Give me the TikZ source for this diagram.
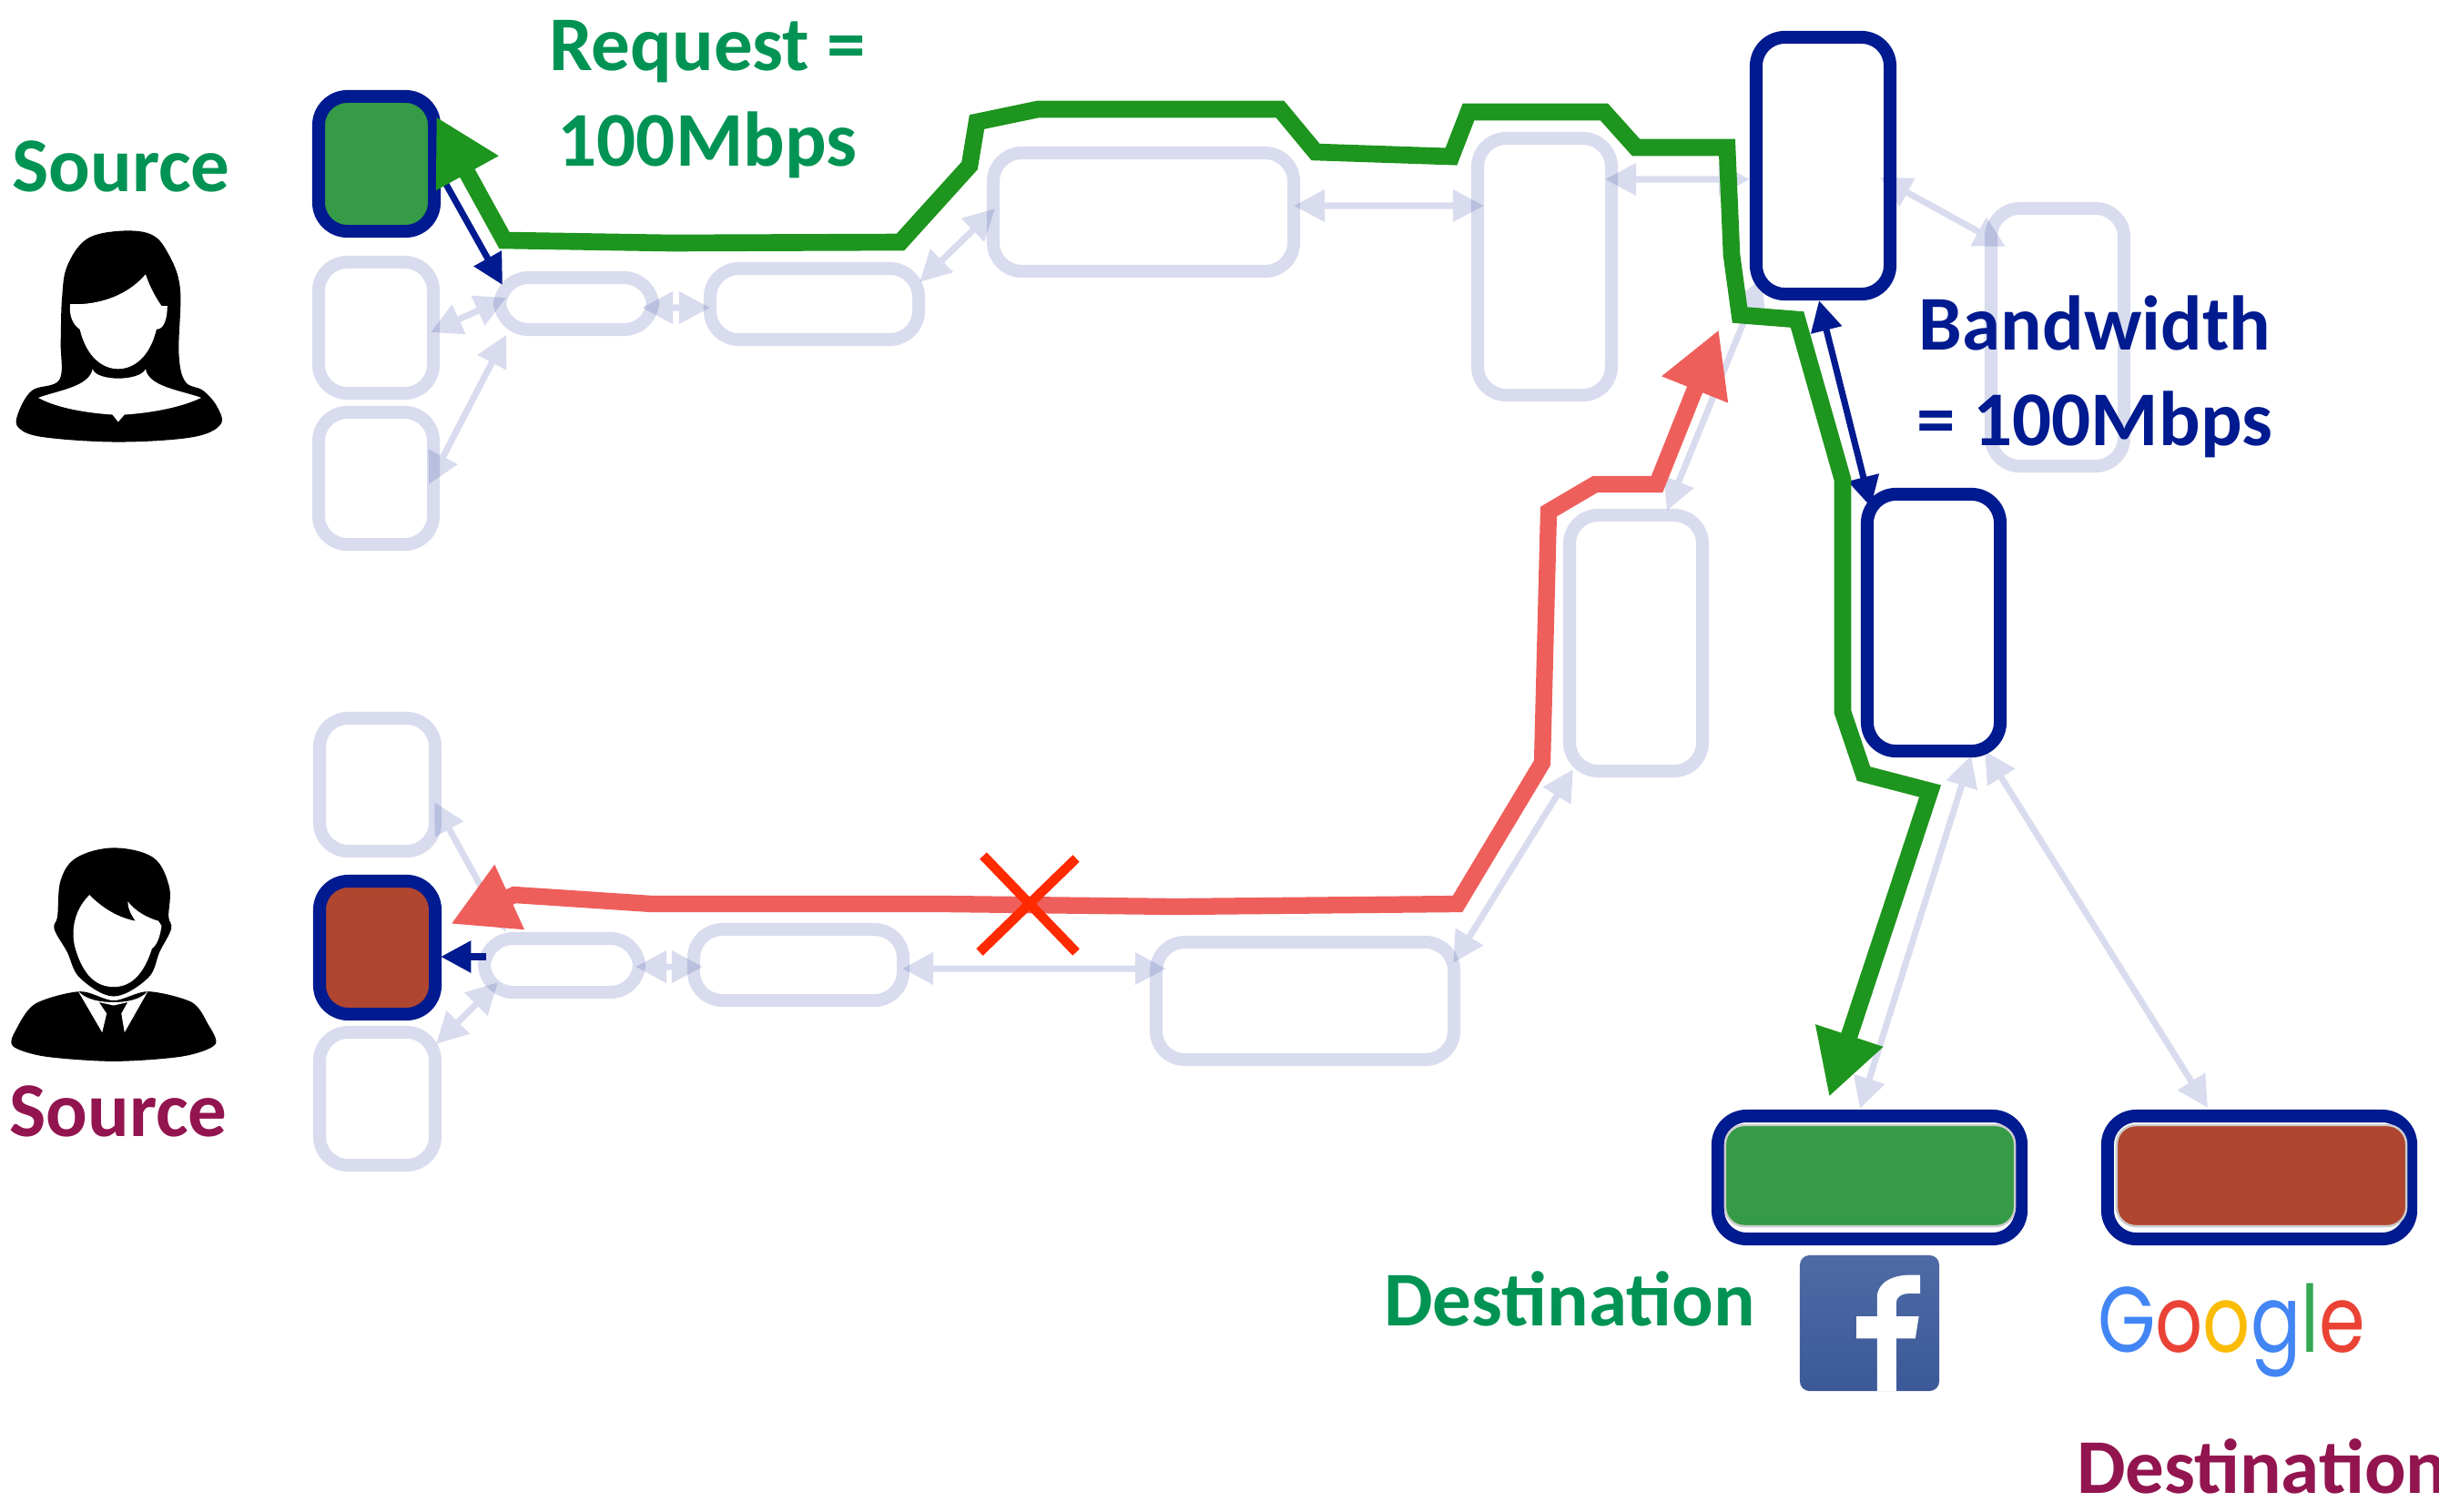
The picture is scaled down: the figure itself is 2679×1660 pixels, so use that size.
\documentclass[tikz,border=0pt]{standalone}
\usepackage{fontspec}
\setmainfont{Carlito}
\newfontfamily\googlefont{Poppins}
\usetikzlibrary{arrows.meta,calc}
\definecolor{navy}{HTML}{001A8F}
\definecolor{pathgreen}{HTML}{1E951E}
\definecolor{pathred}{HTML}{EE5F5B}
\definecolor{crossred}{HTML}{FF2A00}
\definecolor{cellgreen}{HTML}{359B46}
\definecolor{cellred}{HTML}{B04630}
\definecolor{textgreen}{HTML}{009354}
\definecolor{textpurple}{HTML}{92154F}
\definecolor{fbtop}{HTML}{4F6BA5}
\definecolor{fbbot}{HTML}{3B5998}
\def\px{0.28453pt}
\tikzset{
  navytip/.tip={Triangle[length=9.5pt,width=9.5pt]},
  sz/.style 2 args={minimum width=#1*\px,minimum height=#2*\px},
  cell/.style={rectangle,rounded corners=9pt,inner sep=0pt,outer sep=0pt,line width=4pt},
  faint/.style={cell,draw=navy,draw opacity=.15},
  strong/.style={cell,draw=navy},
  sharedlink/.style={line width=2pt,draw=navy,{Triangle[length=9.7pt,width=9.7pt]}-{Triangle[length=9.7pt,width=9.7pt]}},
  pathlink/.style={line width=5.3pt,miter limit=10,{Triangle[length=20.2pt,width=20.8pt]}-{Triangle[length=20.2pt,width=20.8pt]}},
  navylink/.style={line width=2pt,draw=navy,fill=navy},
  lbl/.style={inner sep=0pt,outer sep=0pt,font=\bfseries\fontsize{24.2}{25}\selectfont},
}
\begin{document}
\begin{tikzpicture}[x=0.01cm,y=-0.01cm]
\useasboundingbox (0,0) rectangle (2679,1660);
\fill[white] (0,0) rectangle (2679,1660);

% faint cells
\node[faint,sz={126}{144}] (l1) at (413,360) {};
\node[faint,sz={126}{145}] (l2) at (413,525.5) {};
\node[faint,sz={168}{57}] (l3) at (633,333.5) {};
\node[faint,sz={229}{78}] (l4) at (894.5,334) {};
\node[faint,sz={330}{130}] (l5) at (1256,233) {};
\node[faint,sz={147}{282}] (l6) at (1696.5,293) {};
\node[faint,sz={146}{283}] (l7) at (2260,370.5) {};
\node[faint,sz={146}{281}] (l8) at (1797,706.5) {};
\node[faint,sz={127}{146}] (l9) at (414.5,862) {};
\node[faint,sz={127}{146}] (l10) at (414.5,1207) {};
\node[faint,sz={170}{59}] (l11) at (617,1060.5) {};
\node[faint,sz={230}{78}] (l12) at (877,1060) {};
\node[faint,sz={327}{129}] (l13) at (1433.5,1099.5) {};

% strong cells
\node[cell,fill=cellgreen,sz={127}{148},draw=navy] (s1) at (413.5,180) {};
\node[cell,fill=cellred,sz={127}{146},draw=navy] (s2) at (414.5,1041) {};
\node[strong,sz={147}{282}] (b1) at (2002.5,182) {};
\node[strong,sz={146}{282}] (b2) at (2124,684) {};
\node[strong,sz={333}{135}] (d1) at (2053.5,1293.5) {};
\node[strong,sz={333}{135}] (d2) at (2481.5,1293.5) {};
\node[rectangle,rounded corners=6pt,inner sep=0pt,fill=cellgreen,draw=black!20,line width=.7pt,sz={318}{111}] (d1fill) at (2054,1291.5) {};
\node[rectangle,rounded corners=6pt,inner sep=0pt,fill=cellred,draw=black!20,line width=.7pt,sz={318}{111}] (d2fill) at (2484,1291.5) {};

% shared links
\begin{scope}[transparency group,opacity=.15]
\draw[sharedlink] ($(l1.east)+(-3,5)$) -- ($(l3.west)+(7,-6.5)$);
\draw[sharedlink] ($(l2.east)+(-5,6.5)$) -- ($(l3.south west)+(7,6)$);
\draw[sharedlink] ($(l3.east)+(-12,4.5)$) -- ($(l4.west)+(0,4)$);
\draw[sharedlink] ($(l4.north east)+(1,15)$) -- ($(l5.west)+(2,-4)$);
\draw[sharedlink] ($(l5.east)+(0,-7)$) -- ($(l6.west)+(7,-67)$);
\draw[sharedlink] ($(l6.east)+(-7,-96)$) -- ($(b1.west)+(-7,15)$);
\draw[sharedlink] ($(b1.east)+(-11,13)$) -- ($(l7.north west)+(16,42)$);
\draw[sharedlink] ($(b1.south west)+(6,-18)$) -- ($(l8.north)+(34,-5)$);
\draw[sharedlink] ($(l8.south west)+(4,-2)$) -- ($(l13.north east)+(-1,23)$);
\draw[sharedlink] ($(b2.south)+(41,5)$) -- ($(d1.north)+(-10.5,-8)$);
\draw[sharedlink] ($(b2.south east)+(-17,0)$) -- ($(d2.north)+(-56.5,-9)$);
\draw[sharedlink] ($(l9.east)+(-1,19)$) -- ($(l11.north west)+(24,-7)$);
\draw[sharedlink] ($(l10.north east)+(1,13)$) -- ($(l11.south west)+(15,-11)$);
\draw[sharedlink] ($(l11.east)+(-4,1.5)$) -- ($(l12.west)+(10,2)$);
\draw[sharedlink] ($(l12.east)+(-1,4)$) -- ($(l13.west)+(11,-35.5)$);
\end{scope}

% navy links
\draw[navylink,{navytip}-{navytip}] ($(b1.south)+(-4.5,7)$) -- ($(b2.north west)+(4,14)$);
\draw[navylink,-{navytip}] ($(s1.east)+(6,10)$) -- ($(l3.north west)+(3,8)$);
\draw[navylink,line width=2.2pt,-{navytip}] ($(l11.west)+(2,-9.5)$) -- ($(s2.east)+(6,10)$);

% request path
\draw[pathlink,color=pathgreen] ($(s1.east)+(2,-52)$)
  -- (554,264) -- (737,267) -- (989,266) -- (1065,182) -- (1073,134)
  -- (1140,120) -- (1406,120) -- (1445,167) -- (1594,172) -- (1613,123)
  -- (1762,123) -- (1797,162) -- (1897,162) -- (1902,280) -- (1911,346)
  -- (1974,351) -- (2024,527) -- (2024,782) -- (2047,850) -- (2120,869)
  -- ($(d1.north)+(-44.5,-21)$);

% blocked path
\coordinate (redend) at (1888,362);
\draw[pathlink,color=pathred,line width=5.2pt] ($(s2.east)+(17,-26)$)
  -- (565,983) -- (716,993) -- (1037,993) -- (1292,996) -- (1601,993)
  -- (1694,838) -- (1701,562) -- (1752,532) -- (1820,532) -- (redend);

% cross
\coordinate (xa) at (1080,940);
\coordinate (xb) at (1182,1046);
\coordinate (xc) at (1182,943);
\coordinate (xd) at (1076,1046);
\draw[crossred,line width=3pt] (xa) -- (xb) (xc) -- (xd);

% labels
\node[lbl,text=textgreen] (src1) at (133,183) {Source};
\node[lbl,text=textpurple] (src2) at (130,1221) {Source};
\node[lbl,text=textgreen] (req) at (777,57) {Request =};
\node[lbl,text=textgreen] (reqv) at (777,159) {100Mbps};
\node[lbl,text=navy] (bw) at (2301,355) {Bandwidth};
\node[lbl,text=navy] (bwv) at (2301,466) {= 100Mbps};
\node[lbl,text=textgreen] (dst1) at (1724,1427) {Destination};
\node[lbl,text=textpurple,anchor=west] (dst2) at (2281,1611) {Destination};

% facebook logo
\node[rectangle,rounded corners=3pt,inner sep=0pt,sz={153}{149},top color=fbtop,bottom color=fbbot] (fb) at (2053.5,1453.5) {};
\begin{scope}[shift={(1500,800)},xscale=0.752,yscale=0.5485]
\fill[white] (747,1328) -- (747,1222) -- (717,1222) -- (717,1178) -- (747,1178) -- (747,1140)
  .. controls (747,1110) and (770,1095) .. (795,1095) -- (810,1095) -- (810,1132) -- (795,1132)
  .. controls (782,1132) and (775,1140) .. (775,1150) -- (775,1178) -- (808,1178) -- (803,1222) -- (775,1222) -- (775,1328) -- cycle;
\end{scope}

% google logo
\node[inner sep=0pt,font=\googlefont\fontsize{29}{29}\selectfont] (ggl) at (2451,1462)
 {\scalebox{.8}[1]{\textcolor[HTML]{4285F4}{G}\textcolor[HTML]{EA4335}{o}\textcolor[HTML]{FBBC05}{o}\textcolor[HTML]{4285F4}{g}\textcolor[HTML]{34A853}{l}\textcolor[HTML]{EA4335}{e}}};

% woman icon
\begin{scope}[xscale=0.7015,yscale=0.3954]
\fill[black] plot[smooth cycle,tension=.6] coordinates {(185,642)(135,665)(105,740)(97,830)(95,950)(93,1055)(50,1085)(28,1150)(30,1190)(70,1215)(185,1228)(300,1215)(345,1180)(340,1130)(318,1085)(290,1060)(280,980)(282,800)(262,700)(235,650)};
\fill[white] (110,845) -- (127,845) .. controls (170,840) and (205,810) .. (228,762)
  .. controls (235,800) and (245,830) .. (253,850) -- (262,850)
  .. controls (262,880) and (258,915) .. (245,915)
  .. controls (235,990) and (210,1025) .. (185,1025)
  .. controls (160,1025) and (135,990) .. (125,915)
  .. controls (112,900) and (108,870) .. (110,845) -- cycle;
\fill[white] (60,1105) .. controls (90,1085) and (140,1075) .. (145,1025)
  .. controls (150,1060) and (220,1060) .. (228,1025)
  .. controls (232,1075) and (285,1085) .. (315,1105)
  .. controls (280,1135) and (230,1148) .. (195,1152) -- (185,1172) -- (176,1152)
  .. controls (140,1148) and (90,1135) .. (60,1105) -- cycle;
\end{scope}

% man icon
\begin{scope}[shift={(0,760)},xscale=0.7015,yscale=0.357]
\fill[black] plot[smooth cycle,tension=.6] coordinates {(178,480)(120,510)(95,580)(90,690)(85,730)(105,800)(125,880)(178,937)(232,880)(250,800)(268,730)(264,690)(265,600)(240,510)};
\fill[black] plot[smooth cycle,tension=.5] coordinates {(125,922)(55,960)(25,1040)(20,1090)(70,1122)(178,1137)(285,1122)(337,1085)(325,1020)(300,955)(232,922)(178,950)};
\fill[white] (140,625) .. controls (160,665) and (185,695) .. (212,705) .. controls (205,685) and (200,665) .. (200,645)
  .. controls (212,675) and (230,695) .. (248,705) -- (253,720)
  .. controls (250,760) and (245,780) .. (238,790)
  .. controls (225,870) and (205,908) .. (178,908)
  .. controls (150,908) and (130,870) .. (118,790)
  .. controls (112,750) and (112,680) .. (140,625) -- cycle;
\fill[white] (122,920) -- (160,1048) -- (167,990) -- (155,955) -- (178,965) -- (200,955) -- (190,990) -- (195,1048) -- (232,920) .. controls (220,950) and (195,955) .. (178,955) .. controls (160,955) and (135,950) .. (122,920) -- cycle;
\end{scope}
\end{tikzpicture}
\end{document}
